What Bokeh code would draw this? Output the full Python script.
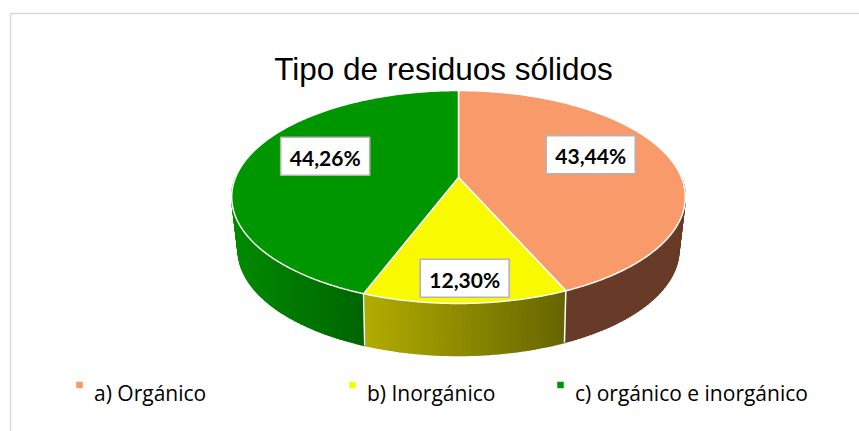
import numpy as np
from bokeh.plotting import figure
from bokeh.models import Range1d
from bokeh.embed import file_html
from bokeh.resources import INLINE
from bokeh.core.properties import value

# ---------------- data ----------------
chart_title = "Tipo de residuos sólidos"
categories = ["a) Orgánico", "b) Inorgánico", "c)  orgánico e inorgánico"]
percentages = [43.44, 12.30, 44.26]
label_texts = ["43,44%", "12,30%", "44,26%"]

# ---------------- style ----------------
top_colors = ["#F99A6A", "#F9F900", "#009600"]
side_left = ["#683B29", "#B2AC00", "#008A00"]
side_right = ["#683B29", "#656500", "#006500"]
legend_x = [79, 352, 560]
legend_y = 384.5

W, H = 859, 431
p = figure(width=W, height=H, x_range=Range1d(0, W), y_range=Range1d(H, 0),
           output_backend="svg", toolbar_location=None, min_border=0)
p.axis.visible = False
p.grid.visible = False
p.outline_line_color = None
p.background_fill_color = "white"

# chart frame (light grey border)
p.segment(x0=[10, 10], y0=[431, 13], x1=[10, 860], y1=[13, 13], line_color="#D9D9D9", line_width=1.5)

# ---------------- 3D pie projection ----------------
CX = 458.0
TOP = dict(p=177.0, q=70.5, r=-0.183, s=223.0)
BOT = dict(p=228.0, q=56.0, r=-0.2, s=216.0)


def proj(theta_deg, k, P):
    t = np.radians(theta_deg)
    u = k * np.sin(t)
    w = -k * np.cos(t)
    den = 1 + P["r"] * w
    return CX + P["s"] * u / den, (P["p"] + P["q"] * w) / den


def hex2rgb(h):
    h = h.lstrip("#")
    return np.array([int(h[i:i + 2], 16) for i in (0, 2, 4)], dtype=float)


def rgb2hex(c):
    return "#%02x%02x%02x" % tuple(int(round(v)) for v in c)


vals = np.array(percentages, dtype=float)
angles = vals / vals.sum() * 360.0
ends = np.cumsum(angles)
starts = ends - angles

# side walls (front visible half: 90..270 deg clockwise from top)
sx, sy, scol = [], [], []
for i in range(len(vals)):
    a0, a1 = max(starts[i], 90.0), min(ends[i], 270.0)
    if a1 <= a0:
        continue
    n = max(int((a1 - a0) / 1.0), 2)
    th = np.linspace(a0, a1, n + 1)
    tx, ty = proj(th, 1.0, TOP)
    bx, by = proj(th, 1.0, BOT)
    xmin, xmax = tx.min(), tx.max()
    cl, cr = hex2rgb(side_left[i]), hex2rgb(side_right[i])
    for j in range(n):
        sx.append([tx[j], tx[j + 1], bx[j + 1], bx[j]])
        sy.append([ty[j], ty[j + 1], by[j + 1], by[j]])
        f = ((tx[j] + tx[j + 1]) / 2 - xmin) / (xmax - xmin)
        scol.append(rgb2hex(cl + (cr - cl) * f))
p.patches(sx, sy, fill_color=scol, line_color=scol, line_width=1.4, line_join="round")

# seams between slices on the side wall
for b in starts:
    if 90 < b < 270:
        x0, y0 = proj(b, 1.0, TOP)
        x1, y1 = proj(b, 1.0, BOT)
        p.segment(x0=[x0], y0=[y0], x1=[x1], y1=[y1], line_color="white", line_width=1.5)

# top face
txs, tys = [], []
for i in range(len(vals)):
    th = np.linspace(starts[i], ends[i], max(int(angles[i] / 0.5), 2) + 1)
    ax, ay = proj(th, 1.0, TOP)
    cx0, cy0 = proj(0.0, 0.0, TOP)
    txs.append([cx0] + list(ax))
    tys.append([cy0] + list(ay))
p.patches(txs, tys, fill_color=top_colors, line_color="white", line_width=1.5)

# data labels
lx, ly = [], []
for i in range(len(vals)):
    mid = starts[i] + angles[i] / 2
    k = 0.62 if percentages[i] >= 20 else 0.9
    x, y = proj(mid, k, TOP)
    lx.append(float(x))
    ly.append(float(y) - 10)
p.rect(x=lx, y=ly, width=89, height=38, width_units="screen", height_units="screen",
       fill_color="white", line_color="#B4B4B4", line_width=1.6)
p.text(x=lx, y=[v + 1 for v in ly], text=label_texts, text_align="center", text_baseline="middle",
       text_font=value("Lato"), text_font_style="bold", text_font_size="21px", text_color="black")

# title
p.text(x=[443], y=[68], text=[chart_title], text_align="center", text_baseline="alphabetic",
       text_font=value("Liberation Sans"), text_font_size="31.5px", text_color="black")

# legend
p.scatter(x=legend_x, y=[legend_y] * 3, marker="square", size=6.5, fill_color=top_colors, line_color=None)
p.text(x=[x + 14.5 for x in legend_x], y=[392] * 3, text=categories, text_align="left",
       text_baseline="alphabetic", text_font=value("Open Sans"), text_font_size="21px", text_color="black")

open("out.html", "w").write(file_html(p, INLINE))
